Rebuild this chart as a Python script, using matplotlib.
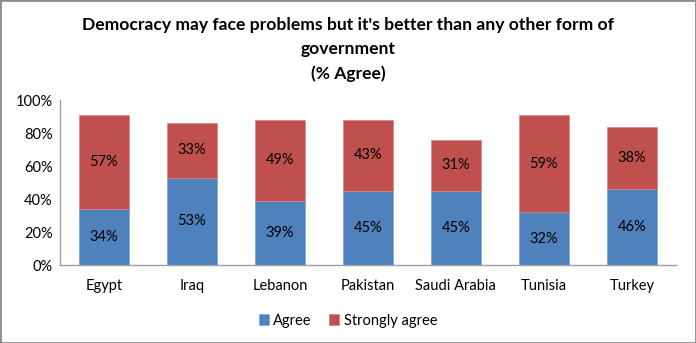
import matplotlib
matplotlib.use("Agg")
import matplotlib.pyplot as plt
from matplotlib.patches import Rectangle
import numpy as np

countries = ["Egypt", "Iraq", "Lebanon", "Pakistan", "Saudi Arabia", "Tunisia", "Turkey"]
agree = [34, 53, 39, 45, 45, 32, 46]
strongly = [57, 33, 49, 43, 31, 59, 38]
yticks = [0, 20, 40, 60, 80, 100]

plt.rcParams['font.family'] = ['Lato', 'DejaVu Sans']

fig = plt.figure(figsize=(6.96, 3.43), dpi=100)
ax = fig.add_axes([0.086, 0.227, 0.885, 0.481])

x = np.arange(len(countries))
w = 0.57
blue = "#4F81BD"
red = "#C0504D"
b1 = ax.bar(x, agree, w, color=blue, label="Agree", edgecolor="#7FA3D0", linewidth=0.5)
b2 = ax.bar(x, strongly, w, bottom=agree, color=red, label="Strongly agree", edgecolor="#D48482", linewidth=0.5)

for xi, a, s in zip(x, agree, strongly):
    ax.text(xi, a / 2, f"{a}%", ha="center", va="center", fontsize=10.5, color="black")
    ax.text(xi, a + s / 2, f"{s}%", ha="center", va="center", fontsize=10.5, color="black")

ax.set_xlim(-0.5, len(countries) - 0.5)
ax.set_ylim(0, 100)
ax.set_yticks(yticks)
ax.set_yticklabels([f"{t}%" for t in yticks], fontsize=10.5)
ax.set_xticks(x)
ax.set_xticklabels(countries, fontsize=10.5)
ax.tick_params(axis="both", length=0, pad=5)
ax.tick_params(axis="x", pad=10)
for sp in ["top", "right"]:
    ax.spines[sp].set_visible(False)
for sp in ["left", "bottom"]:
    ax.spines[sp].set_color("#A0A0A0")
    ax.spines[sp].set_linewidth(1)

fig.text(0.5, 0.95, "Democracy may face problems but it's better than any other form of\ngovernment\n(% Agree)",
         ha="center", va="top", fontsize=12.6, fontweight="bold", linespacing=1.6)

leg = fig.legend(handles=[b1, b2], labels=["Agree", "Strongly agree"], loc="center",
                 bbox_to_anchor=(0.5, 0.065), ncol=2, frameon=False, fontsize=10.5,
                 handlelength=0.7, handleheight=0.7, handletextpad=0.3, columnspacing=1.2)

fig.patches.append(Rectangle((0, 0), 1, 1, transform=fig.transFigure, fill=False,
                             edgecolor="#8C8C8C", linewidth=2))

fig.savefig("out.png", dpi=100)
